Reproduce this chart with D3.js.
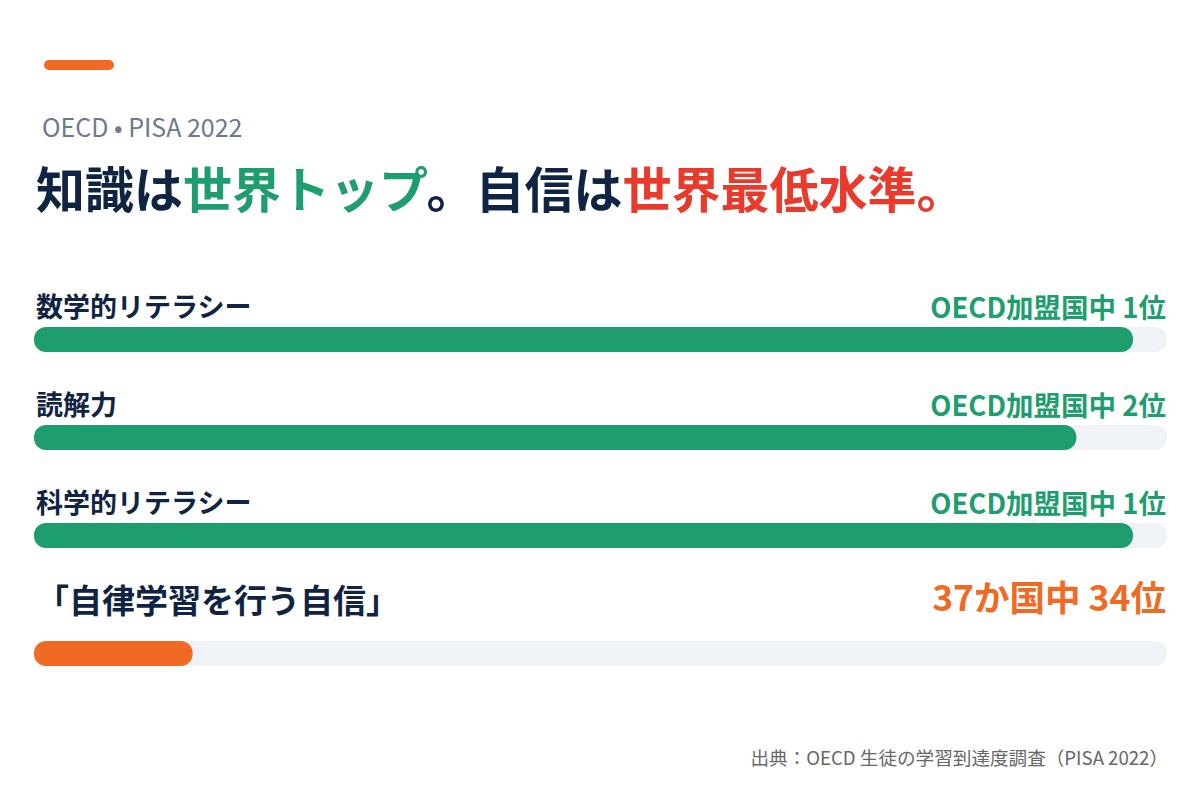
<!DOCTYPE html>
<html>
<head>
<meta charset="utf-8">
<script src="https://cdn.jsdelivr.net/npm/d3@7"></script>
<style>
  html, body { margin: 0; padding: 0; background: #fff; }
  svg { display: block; font-family: "Noto Sans CJK JP", "Noto Sans", sans-serif; }
</style>
</head>
<body>
<script>
// data
const categories = ["数学的リテラシー", "読解力", "科学的リテラシー", "「自律学習を行う自信」"];
const values = [97, 92, 97, 14]; // bar fill, % of track
const rankLabels = ["OECD加盟国中 1位", "OECD加盟国中 2位", "OECD加盟国中 1位", "37か国中 34位"];
const highlight = [false, false, false, true];

const width = 1200, height = 800;
const green = "#1e9e6e", orange = "#f06a24", navy = "#0f2443", red = "#ea3a2b";

const svg = d3.select("body").append("svg")
  .attr("width", width)
  .attr("height", height);

// accent bar
svg.append("rect")
  .attr("x", 44).attr("y", 60)
  .attr("width", 70).attr("height", 10)
  .attr("rx", 5)
  .attr("fill", orange);

svg.append("text")
  .attr("x", 42).attr("y", 137)
  .attr("font-size", 25)
  .attr("fill", "#6b7a8f")
  .text("OECD • PISA 2022");

// headline with coloured parts
const title = svg.append("text")
  .attr("x", 36).attr("y", 208)
  .attr("font-size", 49)
  .attr("font-weight", 700)
  .attr("fill", navy);
[["知識は", navy], ["世界トップ", green], ["。自信は", navy], ["世界最低水準。", red]]
  .forEach(([t, c]) => title.append("tspan").attr("fill", c).text(t));

// bars
const x = d3.scaleLinear().domain([0, 100]).range([34, 1167]);
const barTop = [327, 425, 523, 641];
const barH = 25;

const rows = svg.append("g")
  .selectAll("g")
  .data(categories)
  .join("g");

rows.append("rect")
  .attr("x", x(0))
  .attr("y", (d, i) => barTop[i])
  .attr("width", x(100) - x(0))
  .attr("height", barH)
  .attr("rx", 12)
  .attr("fill", "#eff2f7");

rows.append("rect")
  .attr("x", x(0))
  .attr("y", (d, i) => barTop[i])
  .attr("width", (d, i) => x(values[i]) - x(0))
  .attr("height", barH)
  .attr("rx", 12)
  .attr("fill", (d, i) => highlight[i] ? orange : green);

rows.append("text")
  .attr("x", 36)
  .attr("y", (d, i) => highlight[i] ? barTop[i] - 28 : barTop[i] - 10)
  .attr("font-size", (d, i) => highlight[i] ? 33 : 27)
  .attr("font-weight", 700)
  .attr("fill", navy)
  .text(d => d);

rows.append("text")
  .attr("x", 1166)
  .attr("y", (d, i) => highlight[i] ? barTop[i] - 30 : barTop[i] - 9)
  .attr("text-anchor", "end")
  .attr("font-size", (d, i) => highlight[i] ? 35.5 : 27.5)
  .attr("font-weight", 700)
  .attr("fill", (d, i) => highlight[i] ? orange : green)
  .text((d, i) => rankLabels[i]);

// source
svg.append("text")
  .attr("x", 1168).attr("y", 765)
  .attr("text-anchor", "end")
  .attr("font-size", 18.6)
  .attr("fill", "#666")
  .text("出典：OECD 生徒の学習到達度調査（PISA 2022）");
</script>
</body>
</html>
